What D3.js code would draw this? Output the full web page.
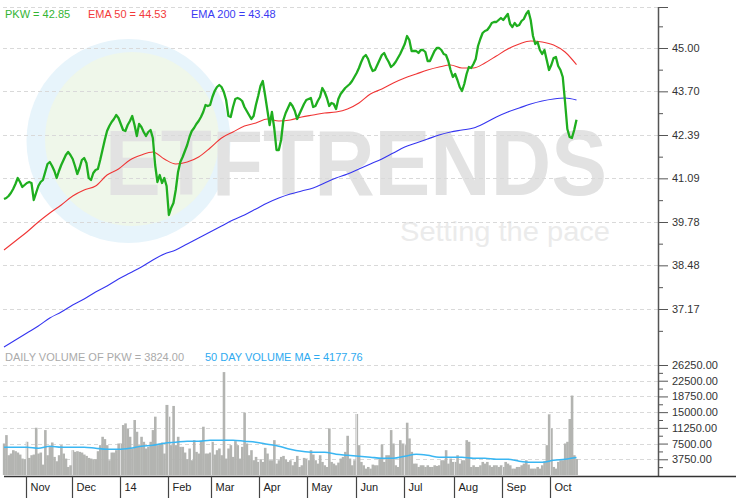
<!DOCTYPE html>
<html><head><meta charset="utf-8">
<script src="https://cdn.jsdelivr.net/npm/d3@7"></script>
<style>
body{margin:0;background:#fff}
svg{display:block}
text{font-family:"Liberation Sans",Arial,sans-serif}
</style>
</head><body>
<svg id="chart" width="747" height="500"></svg>
<script>
// ---------- DATA ----------
const monthLabels = ["Nov","Dec","14","Feb","Mar","Apr","May","Jun","Jul","Aug","Sep","Oct"];
const monthStartIdx = [10,30,51,72,91,112,133,154,175,197,218,239];

const pkw = [
40.47,40.50,40.56,40.65,40.77,40.92,41.10,40.98,40.83,40.89,
40.95,40.98,40.95,40.44,40.65,40.86,40.98,41.04,41.28,41.52,
41.58,41.46,41.31,41.10,41.31,41.49,41.64,41.79,41.88,41.79,
41.67,41.46,41.22,41.40,41.64,41.70,41.55,41.10,41.04,41.25,
41.34,41.37,41.64,41.94,42.24,42.51,42.66,42.78,42.87,42.99,
42.90,42.72,42.54,42.51,42.69,42.81,42.96,42.69,42.36,42.72,
42.63,42.48,42.36,42.48,42.54,42.30,41.49,40.98,41.19,40.95,
41.10,40.86,39.99,40.20,40.35,40.74,41.28,41.58,41.73,41.91,
42.09,42.33,42.51,42.60,42.72,42.81,42.93,43.08,43.29,43.26,
43.29,43.53,43.71,43.83,43.89,43.83,43.68,43.44,42.96,42.93,
43.23,43.47,43.50,43.47,43.41,43.23,43.11,42.99,42.87,42.96,
43.29,43.56,43.86,44.01,43.59,43.14,42.69,43.08,42.60,41.94,
41.94,42.24,42.84,43.05,43.20,43.35,43.26,43.11,42.87,43.02,
43.17,43.32,43.44,43.47,43.50,43.23,43.26,43.41,43.53,43.80,
43.68,43.50,43.26,43.35,43.32,43.17,43.47,43.62,43.71,43.80,
43.86,43.92,44.01,44.13,44.25,44.40,44.58,44.73,44.79,44.67,
44.46,44.31,44.34,44.49,44.64,44.79,44.85,44.70,44.58,44.43,
44.49,44.58,44.70,44.82,44.97,45.12,45.36,45.24,44.91,44.91,
44.91,44.85,44.94,44.94,44.88,44.61,44.61,44.76,44.91,45.00,
45.00,44.94,44.82,44.79,44.61,44.34,44.13,44.22,44.04,43.83,
43.71,43.92,44.22,44.43,44.40,44.52,44.67,45.06,45.27,45.45,
45.51,45.54,45.63,45.75,45.78,45.78,45.84,45.90,45.84,45.93,
46.02,45.72,45.63,45.75,45.66,45.69,45.81,45.87,46.02,46.11,
45.84,45.36,45.12,45.18,44.94,44.82,44.94,44.64,44.34,44.49,
44.70,44.73,44.46,44.34,44.13,43.38,42.57,42.33,42.30,42.54,
42.85];

const volume = [
7520,9520,4720,5120,5920,5680,5360,4880,3920,3760,
7920,4080,4720,4880,11280,5120,5360,2480,10720,4720,
6720,7760,4320,3280,4720,7120,5120,3920,1920,2320,
5920,5520,5680,5520,5360,4880,4560,4080,3920,3760,
3760,5680,7120,9120,8560,7120,3520,5360,5360,5920,
7520,7520,11920,12320,11120,9120,6320,13120,10320,7120,
9120,7920,6320,6720,7920,10720,13920,7120,7520,7760,
5120,16720,13920,7120,16480,7120,9120,6720,6720,5360,
3760,6320,3520,8320,5520,5120,8080,11520,5120,5120,
5360,7920,4880,5920,6320,4720,24560,3920,6320,7120,
4320,8080,7120,3920,6720,14880,7520,4720,5920,3520,
4320,3120,3760,3120,6480,5120,3520,3520,8320,2720,
3520,4320,4560,3680,3120,3520,2320,3120,4560,1920,
2320,4080,3920,3520,5920,4880,3520,2720,4720,3120,
2320,1920,11120,3120,2720,2320,2960,3920,4320,5520,
9360,3920,2320,3520,14560,7120,3120,2320,1520,1920,
1520,2480,2320,2320,3920,7280,3120,4720,4720,10720,
7520,2320,1920,8320,7520,7120,12480,8720,5520,2720,
2720,1920,2320,2320,1920,2320,1920,1920,2320,2160,
2320,3520,3520,5920,2720,3920,3120,3120,4720,2720,
3520,3520,8320,7920,1920,2320,1920,1920,2320,3120,
2720,3120,2320,1920,2320,2320,1920,2320,1920,3120,
2720,2320,1520,1520,1920,1920,2320,2720,3520,2480,
1520,1520,1520,1920,1520,2320,3280,7120,14480,11120,
1920,1520,3120,3520,3520,7520,7920,13360,18960,4720,
3824];

// moving averages, read every 5th trading day
const maStep = 5;
const ema50 = [38.94,39.21,39.48,39.78,40.05,40.29,40.56,40.74,40.86,41.19,
41.37,41.64,41.79,41.88,41.67,41.52,41.58,41.73,42.00,42.30,
42.48,42.66,42.75,42.87,42.81,42.84,42.93,42.99,43.05,43.08,
43.17,43.35,43.62,43.77,43.95,44.10,44.22,44.34,44.43,44.49,
44.40,44.40,44.55,44.76,44.97,45.12,45.21,45.18,45.09,44.88,44.50];
const ema200 = [36.03,36.24,36.45,36.66,36.90,37.08,37.29,37.47,37.68,37.86,
38.07,38.25,38.43,38.64,38.82,38.94,39.12,39.30,39.48,39.66,
39.84,39.99,40.17,40.35,40.50,40.62,40.71,40.80,40.95,41.10,
41.22,41.37,41.52,41.67,41.85,42.03,42.15,42.27,42.39,42.48,
42.54,42.60,42.75,42.93,43.08,43.20,43.32,43.41,43.47,43.50,43.44];
const volMA = [6630,6630,6630,6390,6870,6630,6630,6630,6390,6150,
6150,6390,6870,7110,7590,7830,8060,8060,8300,8300,
8300,8060,7830,7350,6870,6150,5670,5430,5430,4950,
4710,4470,4240,4000,4000,4470,4950,4710,4240,4240,
4240,4000,4000,3760,3760,3280,3040,3040,3520,3760,4180];

const priceTicks = [45.00,43.70,42.39,41.09,39.78,38.48,37.17];
const volumeTicks = [26250,22500,18750,15000,11250,7500,3750];

const lastPkw = 42.85, lastEma50 = 44.53, lastEma200 = 43.48;
const lastVolume = 3824.00, lastVolMA = 4177.76;

// ---------- CHART ----------
const svg = d3.select("#chart");
const AXX = 658;
const x = d3.scaleLinear().domain([0, pkw.length - 1]).range([4, 576.5]);
const step = x(1) - x(0);
const yP = d3.scaleLinear().domain([37.17, 45]).range([309, 48]);
const yV = d3.scaleLinear().domain([0, 26250]).range([475, 365]);

// watermark
const wm = svg.append("g");
wm.append("circle").attr("cx",128.5).attr("cy",141).attr("r",102).attr("fill","#e7f4fb");
wm.append("circle").attr("cx",132).attr("cy",139).attr("r",87).attr("fill","#eff7ea");
wm.append("text").attr("x",105).attr("y",195).attr("font-size",92).attr("font-weight","bold")
  .attr("textLength",502).attr("lengthAdjust","spacingAndGlyphs")
  .attr("fill","#e2e2e2").text("ETFTRENDS");
wm.append("text").attr("x",400).attr("y",241).attr("font-size",28)
  .attr("textLength",210).attr("lengthAdjust","spacingAndGlyphs")
  .attr("fill","#ebebeb").text("Setting the pace");

// grid
const grid = svg.append("g").attr("stroke","#d9d9d9").attr("stroke-dasharray","4,3");
grid.append("line").attr("x1",3).attr("x2",AXX).attr("y1",7.5).attr("y2",7.5);
grid.selectAll("line.p").data(priceTicks).enter().append("line").attr("class","p")
  .attr("x1",3).attr("x2",AXX).attr("y1",d=>Math.round(yP(d))+0.5).attr("y2",d=>Math.round(yP(d))+0.5);
grid.selectAll("line.v").data(volumeTicks).enter().append("line").attr("class","v")
  .attr("x1",3).attr("x2",AXX).attr("y1",d=>Math.round(yV(d))+0.5).attr("y2",d=>Math.round(yV(d))+0.5);

// volume bars
svg.append("g").selectAll("rect").data(volume).enter().append("rect")
  .attr("x",(d,i)=>x(i)-step/2).attr("width",step+0.3)
  .attr("y",d=>yV(d)).attr("height",d=>yV(0)-yV(d))
  .attr("fill","#b3b4b1");
// month separators in volume panel
svg.append("g").selectAll("line").data(monthStartIdx).enter().append("line")
  .attr("x1",d=>Math.round(x(d)-step/2)+0.5).attr("x2",d=>Math.round(x(d)-step/2)+0.5)
  .attr("y1",d=>yV(Math.max(volume[d-1],volume[d]))).attr("y2",yV(0))
  .attr("stroke","#dedede").attr("stroke-width",1);

// volume MA
const maIdx = d3.range(volMA.length).map(k=>Math.min(k*maStep, pkw.length-1));
svg.append("path").datum(volMA)
  .attr("d", d3.line().x((d,k)=>x(maIdx[k])).y(d=>yV(d)).curve(d3.curveMonotoneX))
  .attr("fill","none").attr("stroke","#3ab6f2").attr("stroke-width",1.6);

// EMA lines
svg.append("path").datum(ema200)
  .attr("d", d3.line().x((d,k)=>x(maIdx[k])).y(d=>yP(d)).curve(d3.curveMonotoneX))
  .attr("fill","none").attr("stroke","#3535f0").attr("stroke-width",1.1);
svg.append("path").datum(ema50)
  .attr("d", d3.line().x((d,k)=>x(maIdx[k])).y(d=>yP(d)).curve(d3.curveMonotoneX))
  .attr("fill","none").attr("stroke","#f03535").attr("stroke-width",1.1);
// price
svg.append("path").datum(pkw)
  .attr("d", d3.line().x((d,i)=>x(i)).y(d=>yP(d)))
  .attr("fill","none").attr("stroke","#1fae1f").attr("stroke-width",2.3)
  .attr("stroke-linejoin","round");

// right axes
svg.append("line").attr("x1",AXX+0.5).attr("x2",AXX+0.5).attr("y1",7).attr("y2",476)
  .attr("stroke","#555").attr("stroke-width",1.5);
svg.append("line").attr("x1",AXX).attr("x2",AXX+10).attr("y1",7.5).attr("y2",7.5).attr("stroke","#555");

const fmt = d3.format(".2f");
function styleAxis(g){
  g.select(".domain").remove();
  g.selectAll(".tick line").attr("stroke","#555");
  g.selectAll(".tick text").attr("fill","#333").attr("font-size",11)
   .attr("font-family","'Liberation Sans',Arial,sans-serif");
}
svg.append("g").attr("transform",`translate(${AXX},0)`)
  .call(d3.axisRight(yP).tickValues(priceTicks).tickSize(10).tickPadding(4).tickFormat(fmt))
  .call(styleAxis);
const priceMinor = priceTicks.slice(0,-1).map((t,k)=>(t+priceTicks[k+1])/2)
  .concat([priceTicks[0]+(priceTicks[0]-priceTicks[1])/2, priceTicks[6]-(priceTicks[5]-priceTicks[6])/2]);
svg.append("g").attr("transform",`translate(${AXX},0)`)
  .call(d3.axisRight(yP).tickValues(priceMinor).tickSize(5).tickFormat(""))
  .call(styleAxis);

svg.append("g").attr("transform",`translate(${AXX},0)`)
  .call(d3.axisRight(yV).tickValues(volumeTicks).tickSize(10).tickPadding(4).tickFormat(fmt))
  .call(styleAxis);
const volMinor = volumeTicks.map(t=>t-1875);
svg.append("g").attr("transform",`translate(${AXX},0)`)
  .call(d3.axisRight(yV).tickValues(volMinor).tickSize(5).tickFormat(""))
  .call(styleAxis);

// bottom axis
svg.append("line").attr("x1",4).attr("x2",736).attr("y1",476.5).attr("y2",476.5)
  .attr("stroke","#333").attr("stroke-width",1.6);
const mt = svg.append("g").selectAll("g").data(monthStartIdx).enter().append("g")
  .attr("transform",d=>`translate(${Math.round(x(d)-step/2)+0.5},0)`);
mt.append("line").attr("y1",476).attr("y2",498).attr("stroke","#444").attr("stroke-width",1.2);
mt.append("text").attr("x",4).attr("y",491).attr("font-size",11).attr("fill","#222")
  .text((d,k)=>monthLabels[k]);

// legends
const lg = svg.append("g").attr("font-size",11);
lg.append("text").attr("x",5).attr("y",18).attr("fill","#33b433").text(`PKW = ${fmt(lastPkw)}`);
lg.append("text").attr("x",88).attr("y",18).attr("fill","#f23a3a").text(`EMA 50 = ${fmt(lastEma50)}`);
lg.append("text").attr("x",191).attr("y",18).attr("fill","#3a3af2").text(`EMA 200 = ${fmt(lastEma200)}`);
lg.append("text").attr("x",5).attr("y",361).attr("fill","#aaaaaa").text(`DAILY VOLUME OF PKW = ${fmt(lastVolume)}`);
lg.append("text").attr("x",205).attr("y",361).attr("fill","#2eaaf0").text(`50 DAY VOLUME MA = ${fmt(lastVolMA)}`);
</script>
</body></html>
